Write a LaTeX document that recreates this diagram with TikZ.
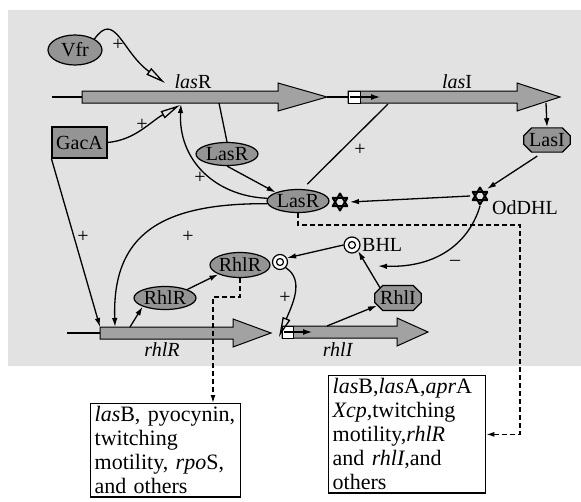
\documentclass[tikz,border=0pt]{standalone}
\usepackage{fontspec}
\setmainfont{Liberation Serif}
\usepackage{tikz}
\usetikzlibrary{arrows.meta,positioning,shapes.geometric,shapes.misc}
\definecolor{qsbg}{RGB}{226,226,226}
\definecolor{qsfill}{RGB}{148,148,148}
\definecolor{qsgene}{RGB}{162,162,162}
\newcommand{\qsfont}{\fontsize{20}{24}\selectfont}

\begin{document}
\begin{tikzpicture}[x=1pt,y=-1pt,
    prot/.style={ellipse, draw, line width=1.2pt, fill=qsfill, inner sep=0pt, minimum width=62pt, minimum height=23pt, font=\qsfont},
    synth/.style={chamfered rectangle, chamfered rectangle xsep=4pt, chamfered rectangle ysep=4pt, draw, line width=1.2pt, fill=qsfill, inner sep=1.5pt, minimum width=44pt, minimum height=23pt, font=\qsfont},
    regbox/.style={draw, line width=1.2pt, fill=qsfill, inner sep=1pt, minimum width=55pt, minimum height=31pt, font=\qsfont},
    ahl/.style={circle, draw, line width=1.2pt, fill=white, minimum size=16pt, inner sep=0pt,
      path picture={\draw[line width=1.2pt] (path picture bounding box.center) circle[radius=3.5pt];}},
    hexa/.style={circle, minimum size=19.5pt, inner sep=0pt,
      path picture={\draw[line width=2pt, line join=round]
        (path picture bounding box.center) ++(90:8.5pt) -- ++(240:14.7pt) -- ++(0:14.7pt) -- cycle
        (path picture bounding box.center) ++(270:8.5pt) -- ++(120:14.7pt) -- ++(0:14.7pt) -- cycle;}},
    gene/.style={draw, line width=1pt, fill=qsgene},
    genelbl/.style={font=\qsfont, inner sep=0pt},
    sign/.style={font=\qsfont, inner sep=0pt},
    link/.style={draw, line width=1.3pt},
    act/.style={draw, line width=1.3pt, -{Latex[length=9pt,width=5.5pt]}},
    hook/.style={draw, line width=1.3pt, -{Triangle[open,length=20pt,width=8pt]}},
    dashlink/.style={draw, line width=1.3pt, dash pattern=on 5pt off 3pt, -{Latex[length=8pt,width=5pt]}},
    target/.style={draw, line width=1.3pt, fill=white, align=left, anchor=north west, inner xsep=4pt, inner ysep=3pt, font=\fontsize{22}{24}\selectfont}
  ]
  \useasboundingbox (0,0) rectangle (581,501);
  \fill[qsbg] (8,10) rectangle (581,366);

  % genes
  \draw[link] (52,97) -- (82,97);
  \draw[gene] (82,91) -- (278,91) -- (278,83) -- (327,97) -- (278,111) -- (278,103) -- (82,103) -- cycle;
  \draw[link] (327,97) -- (348,97);
  \draw[gene] (348,91) -- (517,91) -- (517,83) -- (560,97) -- (517,111) -- (517,103) -- (348,103) -- cycle;
  \draw[line width=1pt, fill=white] (348,91) rectangle (360,103);
  \draw[line width=1.2pt, -{Latex[length=9pt,width=6pt]}] (350,97) -- (380,97);

  \draw[link] (67,333) -- (100,333);
  \draw[gene] (100,327) -- (233,327) -- (233,319) -- (271,333) -- (233,347) -- (233,339) -- (100,339) -- cycle;
  \draw[gene] (282,326) -- (397,326) -- (397,318) -- (428,332) -- (397,346) -- (397,338) -- (282,338) -- cycle;
  \draw[line width=1pt, fill=white] (282,326) rectangle (293,338);
  \draw[line width=1.2pt, -{Latex[length=9pt,width=6pt]}] (284,332) -- (312,332);

  \node[genelbl] (lasRlbl) at (193,82) {\textit{las}R};
  \node[genelbl] (lasIlbl) at (457,82) {\textit{las}I};
  \node[genelbl] (rhlRlbl) at (162,350) {\textit{rhlR}};
  \node[genelbl] (rhlIlbl) at (338,350) {\textit{rhlI}};

  \coordinate (vfrtip) at (165,83);
  \coordinate (gacatip) at (180,105);
  \coordinate (lasRprom) at (181,104);
  \coordinate (lasRout) at (219,103);
  \coordinate (lasIprom) at (388,104);
  \coordinate (lasIout) at (546,103);
  \coordinate (rhlRstart) at (100,327);
  \coordinate (rhlRin) at (115,327);
  \coordinate (rhlRout) at (130,327);
  \coordinate (rhlIprom) at (279,337);
  \coordinate (rhlIout) at (327,326);
  \coordinate (bhlblock) at (378,266);
  \coordinate (dashA) at (213,297);
  \coordinate (dashB) at (520,225);

  % proteins and signals
  \node[prot, minimum width=54pt, minimum height=30pt] (Vfr) at (75,50) {Vfr};
  \node[regbox] (GacA) at (79.5,142.5) {GacA};
  \node[prot] (LasRa) at (227,154) {LasR};
  \node[prot] (LasRb) at (298,201) {LasR};
  \node[hexa] (LasRs) at (340,202) {};
  \node[synth] (LasI) at (547,140) {LasI};
  \node[hexa] (OdDHL) at (480,196) {};
  \node[genelbl, anchor=west] (OdDHLlbl) at (492,208) {OdDHL};
  \node[ahl] (BHL) at (352,245) {};
  \node[genelbl, anchor=west] (BHLlbl) at (362,245) {BHL};
  \node[prot, minimum width=60pt, minimum height=25pt] (RhlRb) at (240,265) {RhlR};
  \node[ahl, minimum size=15pt] (RhlRc) at (280,262) {};
  \node[prot] (RhlRa) at (165,298) {RhlR};
  \node[synth] (RhlI) at (398,298) {RhlI};

  \node[target, text width=142pt] (tgtA) at (90,403)
    {\textit{las}B, pyocynin,\\twitching\\motility, \textit{rpo}S,\\and others};
  \node[target, text width=149pt] (tgtB) at (328,375)
    {\textit{las}B,\textit{las}A,\textit{apr}A\\\textit{Xcp},twitching\\motility,\textit{rhlR}\\and \textit{rhlI},and\\others};

  % regulation
  \draw[hook] (Vfr.north east) .. controls (115,10) and (122,52) .. (vfrtip);
  \draw[hook] (GacA.east) .. controls (135,140) and (150,122) .. (gacatip);
  \draw[act] (LasRb.175) .. controls (215,196) and (178,160) .. (lasRprom);
  \draw[link] (lasRout) -- (LasRa.north);
  \draw[act] (LasRa.south) -- (LasRb.north west);
  \draw[link, shorten <=7pt] (LasRb.70) -- (lasIprom);
  \draw[act] (lasIout) -- (LasI.north);
  \draw[act, shorten <=6pt] (LasI.250) -- (OdDHL.north east);
  \draw[act] (OdDHL.west) -- (LasRs.east);
  \draw[act] (OdDHL.south) .. controls (470,240) and (440,268) .. (bhlblock);
  \draw[act] (GacA.south west) -- (rhlRstart);
  \draw[act] (LasRb.185) .. controls (160,203) and (112,235) .. (rhlRin);
  \draw[act] (rhlRout) -- (RhlRa.south west);
  \draw[act] (RhlRa.north east) -- (RhlRb.south west);
  \draw[act] (BHL.west) -- (RhlRc.30);
  \draw[act] (RhlI.150) -- (BHL.south east);
  \draw[act] (rhlIout) -- (RhlI.200);
  \draw[hook] (RhlRc.south east) .. controls (305,280) and (292,305) .. (rhlIprom);

  \draw[dashlink] (RhlRb.south) |- (dashA) -- (dashA |- tgtA.north);
  \draw[dashlink] (LasRb.south) |- (dashB) -- (dashB |- tgtB.east) -- (tgtB.east);

  \node[sign] (p1) at (118,45) {+};
  \node[sign] (p2) at (142,125) {+};
  \node[sign] (p3) at (200,178) {+};
  \node[sign] (p4) at (360,150) {+};
  \node[sign] (p5) at (83,237) {+};
  \node[sign] (p6) at (188,237) {+};
  \node[sign] (p7) at (285,298) {+};
  \node[sign] (m1) at (455,263) {\textendash};
\end{tikzpicture}
\end{document}
